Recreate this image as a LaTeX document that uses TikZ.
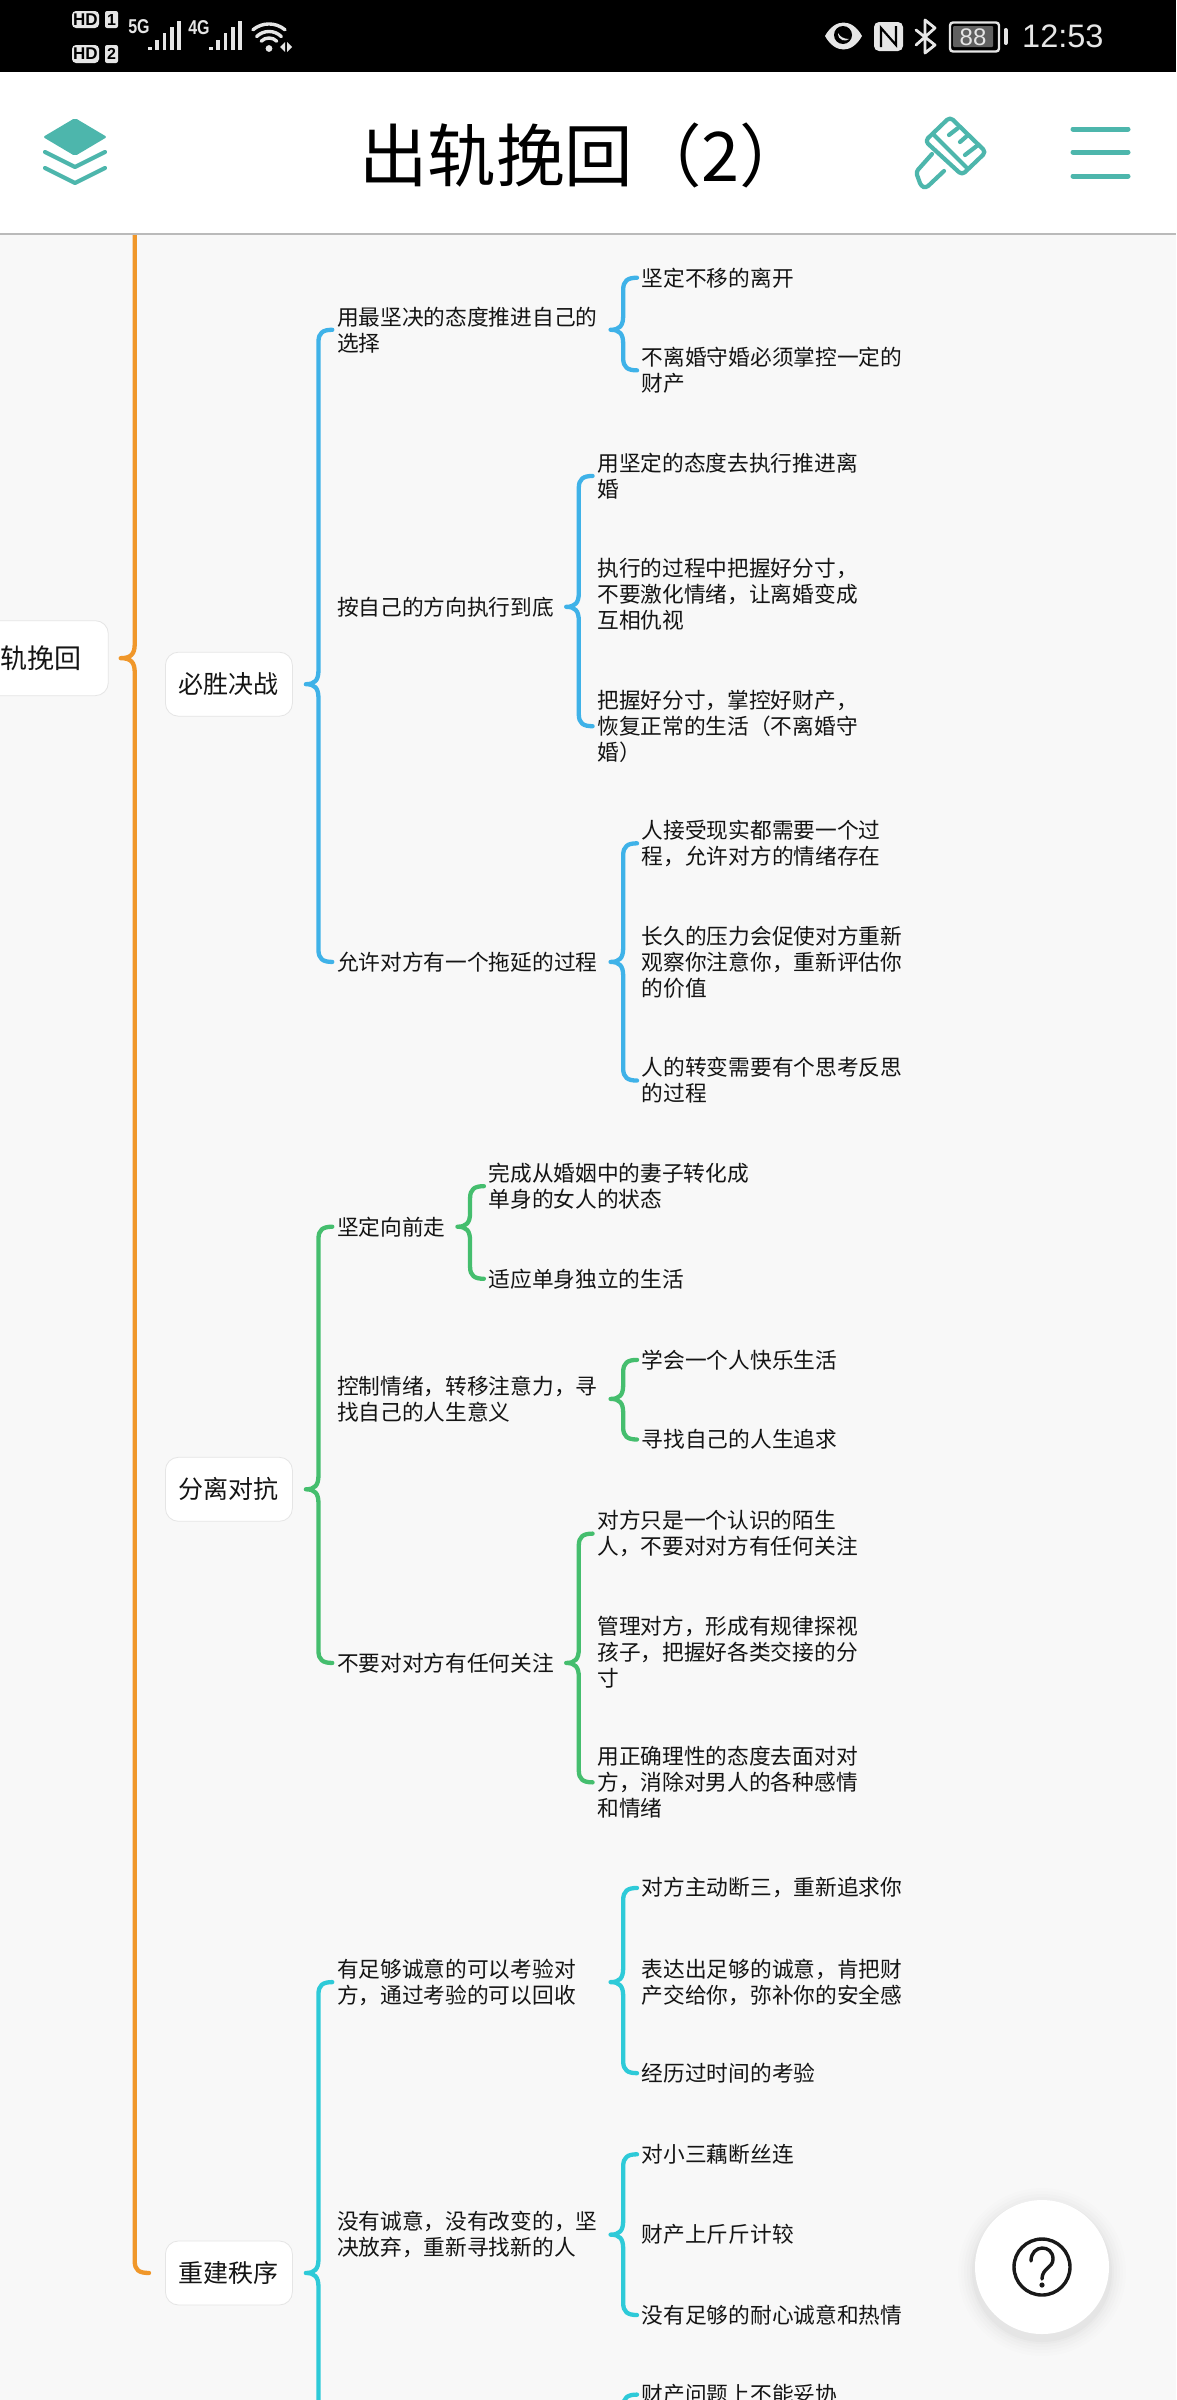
\documentclass[tikz,border=0pt]{standalone}
\usepackage{fontspec}
\setmainfont{Noto Sans CJK SC}
\newfontfamily\latf{Liberation Sans}
\usetikzlibrary{calc}
\definecolor{pagebg}{HTML}{F8F8F8}
\definecolor{inkc}{HTML}{141414}
\definecolor{oranc}{HTML}{F0972A}
\definecolor{bluec}{HTML}{3FB2E8}
\definecolor{greenc}{HTML}{45BE6E}
\definecolor{cyanc}{HTML}{2ECAD8}
\definecolor{tealc}{HTML}{4DB6AC}
\definecolor{statc}{HTML}{E6E6E6}
\tikzset{
 leaf/.style={anchor=west,inner sep=0pt,align=left,text=inkc,yshift=-0.7pt,font=\fontsize{21.7}{26}\selectfont},
 topic/.style={draw=black!10,fill=white,line width=.8pt,rounded corners=13pt,text=inkc,inner xsep=13pt,
   minimum width=127pt,minimum height=64pt,font=\fontsize{25}{30}\selectfont},
 conn/.style={line width=4.3pt,line cap=round,line join=round},
 icon/.style={tealc,line width=4.2pt,line cap=round,line join=round},
 stat/.style={statc,line cap=round,line join=round},
 bartick/.style={statc,line width=3.6pt},
 sttext/.style={inner sep=0pt,text=statc},
}
\newcommand\brk[4]{\draw[conn,#1] let \p1=(#2.east),\p2=(#3.west),\p3=(#4.west) in
 (\x2-4.6pt,\y2) .. controls (\x2-14pt,\y2) and (\x2-18.4pt,\y2-3pt) .. (\x2-18.4pt,\y2-12pt)
 -- (\x2-18.4pt,\y1+14pt) .. controls (\x2-18.4pt,\y1+4pt) and (\x2-22pt,\y1) .. (\x2-31pt,\y1)
 .. controls (\x2-22pt,\y1) and (\x2-18.4pt,\y1-4pt) .. (\x2-18.4pt,\y1-14pt)
 -- (\x2-18.4pt,\y3+12pt) .. controls (\x2-18.4pt,\y3+3pt) and (\x2-14pt,\y3) .. (\x2-4.6pt,\y3);}
\begin{document}
\begin{tikzpicture}[x=1.53125pt,y=-1.530612pt]
\clip (0,0) rectangle (768,1568);
\fill[pagebg] (0,0) rectangle (768,1568);
% topics
\node[topic,anchor=east,minimum width=0pt,minimum height=75pt,inner xsep=27pt,font=\fontsize{27}{32}\selectfont] (root) at (71,430) {出轨挽回};
\node[topic] (t1) at (149.5,447) {必胜决战};
\node[topic] (t2) at (149.5,973) {分离对抗};
\node[topic] (t3) at (149.5,1485) {重建秩序};
% blue branch
\node[leaf] (a1) at (220,215) {用最坚决的态度推进自己的\\选择};
\node[leaf] (a2) at (220,396) {按自己的方向执行到底};
\node[leaf] (a3) at (220,628) {允许对方有一个拖延的过程};
\node[leaf] (a11) at (419,181) {坚定不移的离开};
\node[leaf] (a12) at (419,241.5) {不离婚守婚必须掌控一定的\\财产};
\node[leaf] (a21) at (390,310.5) {用坚定的态度去执行推进离\\婚};
\node[leaf] (a22) at (390,388) {执行的过程中把握好分寸，\\不要激化情绪，让离婚变成\\互相仇视};
\node[leaf] (a23) at (390,474) {把握好分寸，掌控好财产，\\恢复正常的生活（不离婚守\\婚）};
\node[leaf] (a31) at (419,550.5) {人接受现实都需要一个过\\程，允许对方的情绪存在};
\node[leaf] (a32) at (419,628) {长久的压力会促使对方重新\\观察你注意你，重新评估你\\的价值};
\node[leaf] (a33) at (419,705.5) {人的转变需要有个思考反思\\的过程};
% green branch
\node[leaf] (b1) at (220,801) {坚定向前走};
\node[leaf] (b2) at (220,913.5) {控制情绪，转移注意力，寻\\找自己的人生意义};
\node[leaf] (b3) at (220,1086) {不要对对方有任何关注};
\node[leaf] (b11) at (319,774.5) {完成从婚姻中的妻子转化成\\单身的女人的状态};
\node[leaf] (b12) at (319,835) {适应单身独立的生活};
\node[leaf] (b21) at (419,888) {学会一个人快乐生活};
\node[leaf] (b22) at (419,940) {寻找自己的人生追求};
\node[leaf] (b31) at (390,1001.5) {对方只是一个认识的陌生\\人，不要对对方有任何关注};
\node[leaf] (b32) at (390,1079) {管理对方，形成有规律探视\\孩子，把握好各类交接的分\\寸};
\node[leaf] (b33) at (390,1164) {用正确理性的态度去面对对\\方，消除对男人的各种感情\\和情绪};
% cyan branch
\node[leaf] (c1) at (220,1294.5) {有足够诚意的可以考验对\\方，通过考验的可以回收};
\node[leaf] (c2) at (220,1459.5) {没有诚意，没有改变的，坚\\决放弃，重新寻找新的人};
\coordinate (cend) at (220,1640);
\node[leaf] (c11) at (419,1233) {对方主动断三，重新追求你};
\node[leaf] (c12) at (419,1294.5) {表达出足够的诚意，肯把财\\产交给你，弥补你的安全感};
\node[leaf] (c13) at (419,1354) {经历过时间的考验};
\node[leaf] (c21) at (419,1407) {对小三藕断丝连};
\node[leaf] (c22) at (419,1459) {财产上斤斤计较};
\node[leaf] (c23) at (419,1512) {没有足够的耐心诚意和热情};
\node[leaf] (c31) at (419,1564) {财产问题上不能妥协};
\coordinate (c3end) at (407,1600);
% connectors
\draw[conn,oranc] let \p1=(root.east),\p2=(t3.west) in
 (\x1+26pt,0) -- (\x1+26pt,\y1+14pt) .. controls (\x1+26pt,\y1+4pt) and (\x1+22pt,\y1) .. (\x1+12pt,\y1)
 .. controls (\x1+22pt,\y1) and (\x1+26pt,\y1-4pt) .. (\x1+26pt,\y1-14pt)
 -- (\x1+26pt,\y2+12pt) .. controls (\x1+26pt,\y2+3pt) and (\x1+30pt,\y2) .. (\x2-16pt,\y2);
\brk{bluec}{t1}{a1}{a3}
\brk{bluec}{a1}{a11}{a12}
\brk{bluec}{a2}{a21}{a23}
\brk{bluec}{a3}{a31}{a33}
\brk{greenc}{t2}{b1}{b3}
\brk{greenc}{b1}{b11}{b12}
\brk{greenc}{b2}{b21}{b22}
\brk{greenc}{b3}{b31}{b33}
\brk{cyanc}{t3}{c1}{cend}
\brk{cyanc}{c1}{c11}{c13}
\brk{cyanc}{c2}{c21}{c23}
\draw[conn,cyanc] let \p1=(c31.west),\p2=(c3end) in
 (\x1-4.6pt,\y1) .. controls (\x1-14pt,\y1) and (\x1-18.4pt,\y1-3pt) .. (\x1-18.4pt,\y1-12pt) -- (\x1-18.4pt,\y2);
% chrome, drawn in pixel units
\begin{scope}[x=1pt,y=-1pt]
\fill[black] (0,0) rectangle (1176,72);
\fill[white] (0,72) rectangle (1176,233);
\fill[black!27] (0,233) rectangle (1176,235);
% title
\node[anchor=west,inner sep=0pt,text=black,font=\fontsize{68.5}{72}\selectfont] (title) at (359,155) {出轨挽回（2）};
% layers icon
\fill[tealc,rounded corners=2pt] (75,118) -- (107,137) -- (75,156) -- (43,137) -- cycle;
\draw[icon] (45,152) -- (75,167) -- (105,152);
\draw[icon] (45,168) -- (75,183) -- (105,168);
% brush icon
\draw[icon,rounded corners=4pt] (950,117) -- (986,152) -- (962,175) -- (925,141) -- cycle;
\draw[icon] (933,134) -- (966,167);
\draw[icon,rounded corners=3pt] (932,154) -- (916,172) -- (921,186) -- (926,188) -- (944,171);
\draw[icon] (949,135) -- (958,128);
\draw[icon] (960,142) -- (968,135);
\draw[icon] (965,155) -- (978,145);
% menu icon
\draw[icon,line width=5pt] (1073,129) -- (1128,129);
\draw[icon,line width=5pt] (1073,152) -- (1128,152);
\draw[icon,line width=5pt] (1073,176) -- (1128,176);
% status left
\fill[statc,rounded corners=4pt] (72,11) rectangle (99,28);
\node[inner sep=0pt,text=black,font=\latf\bfseries\fontsize{17}{17}\selectfont] (hda) at (85.5,19.5) {HD};
\fill[statc,rounded corners=2pt] (105,11) rectangle (118,28);
\node[inner sep=0pt,text=black,font=\latf\bfseries\fontsize{16}{16}\selectfont] (hdan) at (111.5,19.5) {1};
\fill[statc,rounded corners=4pt] (72,45) rectangle (99,63);
\node[inner sep=0pt,text=black,font=\latf\bfseries\fontsize{17}{17}\selectfont] (hdb) at (85.5,54) {HD};
\fill[statc,rounded corners=2pt] (105,45) rectangle (118,63);
\node[inner sep=0pt,text=black,font=\latf\bfseries\fontsize{16}{16}\selectfont] (hdbn) at (111.5,54) {2};
\node[sttext,xscale=.8,font=\latf\bfseries\fontsize{20}{20}\selectfont] (gfive) at (139,27) {5G};
\node[sttext,xscale=.8,font=\latf\bfseries\fontsize{20}{20}\selectfont] (gfour) at (199,28) {4G};
\foreach \xo in {0,61}{
 \draw[bartick] (150+\xo,50) -- (150+\xo,47);
 \draw[bartick] (157+\xo,50) -- (157+\xo,40);
 \draw[bartick] (164.5+\xo,50) -- (164.5+\xo,33);
 \draw[bartick] (172+\xo,50) -- (172+\xo,27);
 \draw[bartick] (179+\xo,50) -- (179+\xo,21);
}
\fill[statc] (269,48.5) circle (3.4pt);
\draw[stat,line width=3.4pt] (261.2,41.2) arc[start angle=225,end angle=315,radius=11];
\draw[stat,line width=3.4pt] (256.6,36.6) arc[start angle=225,end angle=315,radius=17.5];
\draw[stat,line width=3.4pt] (252.9,29.8) arc[start angle=230,end angle=310,radius=25];
\fill[statc] (280,47) -- (285,42) -- (285,52) -- cycle;
\fill[statc] (287,42) -- (287,52) -- (292,47) -- cycle;
% status right
\fill[statc] (825,36) .. controls (835,18) and (852,18) .. (862,36) .. controls (852,54) and (835,54) .. (825,36) -- cycle;
\fill[black] (843,35) circle (9pt);
\fill[statc] (838,33) .. controls (838,41) and (846,42) .. (849,39) .. controls (844,39) and (840,37) .. (838,33) -- cycle;
\fill[statc,rounded corners=5pt] (874,22) rectangle (903,51);
\draw[black,line width=2.2pt,line join=miter] (881,47) -- (881,28) -- (896,45) -- (896,26);
\draw[stat,line width=2.8pt] (916,30) -- (935,45) -- (925,53) -- (925,20) -- (935,28) -- (916,45);
\draw[statc,line width=2.4pt,rounded corners=3pt] (950,22.5) rectangle (999,51.5);
\fill[black!62,rounded corners=1pt] (953,26) rectangle (993,47);
\node[sttext,font=\latf\fontsize{24}{24}\selectfont] (batt) at (973,37) {88};
\draw[stat,line width=4pt] (1005.5,30) -- (1005.5,43);
\node[sttext,anchor=west,font=\latf\fontsize{32.5}{33}\selectfont] (clock) at (1022,36.5) {12:53};
% help button
\foreach \r/\o in {84/.006,81/.008,78/.01,75/.012,72/.015,70/.02}{\fill[black,opacity=\o] (1042,2272) circle (\r pt);}
\fill[white] (1042,2267) circle (67pt);
\draw[black!90,line width=3.4pt] (1042,2267) circle (28pt);
\draw[black!90,line width=3.4pt,line cap=round] (1031,2261) .. controls (1031,2244) and (1053,2244) .. (1053,2259) .. controls (1053,2268) and (1042,2268) .. (1042,2279);
\fill[black!90] (1042,2285) circle (2.6pt);
\end{scope}
\end{tikzpicture}
\end{document}
